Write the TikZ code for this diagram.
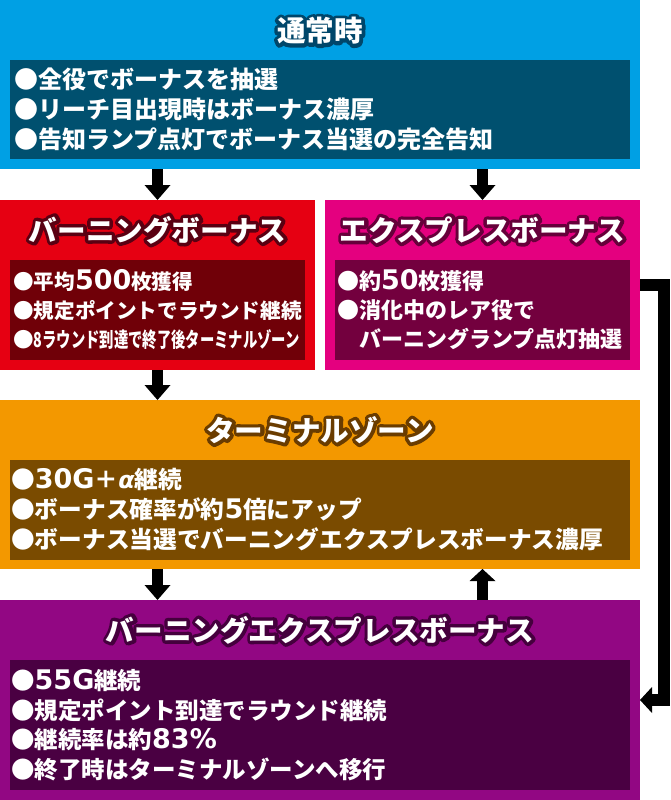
\documentclass[tikz,border=0pt]{standalone}
\usepackage{fontspec}
\setmainfont{Noto Sans CJK JP}[BoldFont=* Black]
\newfontfamily\numfont{DejaVu Sans}
\usetikzlibrary{arrows.meta}
\definecolor{cblue}{HTML}{00A0E4}\definecolor{cteal}{HTML}{00506F}\definecolor{tealo}{HTML}{00466A}
\definecolor{cred}{HTML}{E60012}\definecolor{cdred}{HTML}{700008}\definecolor{redo}{HTML}{5A0012}
\definecolor{cmag}{HTML}{E4007F}\definecolor{cdmag}{HTML}{73003E}\definecolor{mago}{HTML}{66003A}
\definecolor{corg}{HTML}{F39800}\definecolor{cbrn}{HTML}{7A4B00}\definecolor{brno}{HTML}{6A3C00}
\definecolor{cpur}{HTML}{920783}\definecolor{cdpur}{HTML}{4A0042}\definecolor{purpo}{HTML}{45003D}
% outlined title: stroked copy underneath, white fill on top
\newcommand\outlinedtext[2]{%
  \makebox[0pt][l]{\special{pdf:literal direct q 1 Tr 7 w 1 j 1 J}\textcolor{#1}{#2}\special{pdf:literal direct Q}}%
  #2}
\newcommand\numtxt[1]{{\numfont\bfseries\fontsize{27}{30}\selectfont #1}}
\begin{document}
\begin{tikzpicture}[x=1pt,y=-1pt,
  panel/.style 2 args={minimum width=#1,minimum height=#2,inner sep=0pt,outer sep=0pt},
  body/.style={text=white,anchor=west,inner sep=0pt,align=left},
  title/.style={text=white,inner sep=0pt,font=\bfseries\fontsize{28.6}{30}\selectfont},
  flow/.style={line width=11.5pt,-{Triangle[width=26pt,length=15pt,line width=0pt]}},
  flowup/.style={line width=11.5pt,-{Triangle[width=26pt,length=12pt,line width=0pt]}},
  link/.style={line width=11.5pt,-{Triangle[width=26pt,length=12pt,line width=0pt]}}]
\fill[white] (0,0) rectangle (670,800);
\useasboundingbox (0,0) rectangle (670,800);
% panels
\node[panel={640pt}{169pt},fill=cblue] (top) at (320,84.5) {};
\node[panel={620pt}{99pt},fill=cteal] (topin) at (320,109.5) {};
\node[panel={315pt}{170pt},fill=cred] (burn) at (157.5,285) {};
\node[panel={295pt}{100pt},fill=cdred] (burnin) at (157.5,310) {};
\node[panel={315pt}{170pt},fill=cmag] (expr) at (482.5,285) {};
\node[panel={295pt}{100pt},fill=cdmag] (exprin) at (482.5,310) {};
\node[panel={640pt}{169pt},fill=corg] (term) at (320,484.5) {};
\node[panel={620pt}{100pt},fill=cbrn] (termin) at (320,510) {};
\node[panel={640pt}{200pt},fill=cpur] (bex) at (320,700) {};
\node[panel={620pt}{130pt},fill=cdpur] (bexin) at (320,725) {};
% titles
\node[title] (ttop) at (320,31) {\outlinedtext{tealo}{通常時}};
\node[title] (tburn) at (157.5,230) {\outlinedtext{redo}{バーニングボーナス}};
\node[title] (texpr) at (482.5,230) {\outlinedtext{mago}{エクスプレスボーナス}};
\node[title] (tterm) at (320,430) {\outlinedtext{brno}{ターミナルゾーン}};
\node[title] (tbex) at (320,630) {\outlinedtext{purpo}{バーニングエクスプレスボーナス}};
% texts
\node[body,font=\bfseries\fontsize{24}{30}\selectfont] (xtop) at ([xshift=4pt]topin.west)
  {●全役でボーナスを抽選\\●リーチ目出現時はボーナス濃厚\\●告知ランプ点灯でボーナス当選の完全告知};
\node[body,font=\bfseries\fontsize{20.6}{29}\selectfont] (xburn) at ([xshift=3pt]burnin.west)
  {●平均\numtxt{500}枚獲得\\●規定ポイントでラウンド継続\\●\resizebox{266pt}{\height}{8ラウンド到達で終了後ターミナルゾーン}};
\node[body,font=\bfseries\fontsize{22}{29}\selectfont] (xexpr) at ([xshift=2pt]exprin.west)
  {●約\numtxt{50}枚獲得\\●消化中のレア役で\\\phantom{●}バーニングランプ点灯抽選};
\node[body,font=\bfseries\fontsize{23.7}{30}\selectfont] (xterm) at ([xshift=1pt]termin.west)
  {●\numtxt{30G}＋{\numfont\bfseries\itshape α}継続\\●ボーナス確率が約\numtxt{5}倍にアップ\\●ボーナス当選でバーニングエクスプレスボーナス濃厚};
\node[body,font=\bfseries\fontsize{23.5}{29.5}\selectfont] (xbex) at ([xshift=1pt]bexin.west)
  {●\numtxt{55G}継続\\●規定ポイント到達でラウンド継続\\●継続率は約\numtxt{83\%}\\●終了時はターミナルゾーンへ移行};
% connectors
\draw[flow] (top.south -| burn.north) -- (burn.north);
\draw[flow] (top.south -| expr.north) -- (expr.north);
\draw[flow] (burn.south) -- (burn.south |- term.north);
\draw[flow] (term.south -| burn.south) -- (bex.north -| burn.south);
\draw[flowup] (bex.north -| expr.south) -- (term.south -| expr.south);
\draw[link] (expr.east) -- ++(24,0) |- (bex.east);
\end{tikzpicture}
\end{document}
